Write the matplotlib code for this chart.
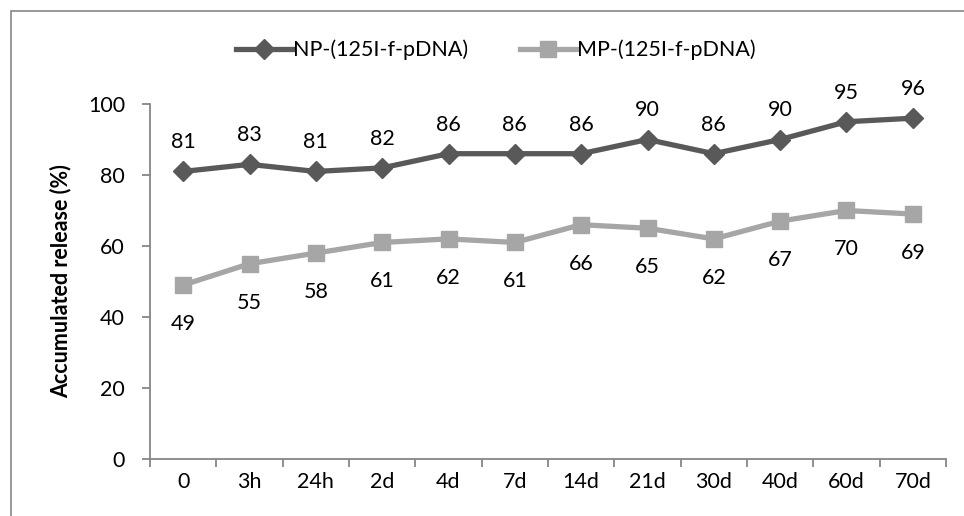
import matplotlib.pyplot as plt
from matplotlib.patches import Rectangle

plt.rcParams['font.family'] = ['Lato', 'DejaVu Sans']

times = ['0', '3h', '24h', '2d', '4d', '7d', '14d', '21d', '30d', '40d', '60d', '70d']
np_release = [81, 83, 81, 82, 86, 86, 86, 90, 86, 90, 95, 96]
mp_release = [49, 55, 58, 61, 62, 61, 66, 65, 62, 67, 70, 69]

fs = 15.5
fig = plt.figure(figsize=(9.64, 5.16), dpi=100)
ax = fig.add_axes([150 / 964, 57 / 516, 796 / 964, 355 / 516])

x = range(len(times))
ax.plot(x, np_release, color='#595959', lw=3.8, marker='D', ms=10,
        label='NP-(125I-f-pDNA)')
ax.plot(x, mp_release, color='#a6a6a6', lw=3.8, marker='s', ms=11,
        label='MP-(125I-f-pDNA)')

# value labels: above the NP line, below the MP line
for i, v in enumerate(np_release):
    ax.annotate(str(v), (i, v), xytext=(0, 21), textcoords='offset points',
                ha='center', va='center', fontsize=fs)
for i, v in enumerate(mp_release):
    ax.annotate(str(v), (i, v), xytext=(0, -28), textcoords='offset points',
                ha='center', va='center', fontsize=fs)

ax.set_xlim(-0.5, len(times) - 0.5)
ax.set_ylim(0, 100)
ax.set_yticks(range(0, 101, 20))
ax.set_xticks(x)
ax.set_xticklabels(times)
ax.set_xticks([i - 0.5 for i in range(len(times) + 1)], minor=True)
ax.tick_params(axis='x', which='major', length=0, pad=9, labelsize=fs)
ax.tick_params(axis='x', which='minor', length=6, color='#868686', width=1.3)
ax.tick_params(axis='y', length=6, color='#868686', width=1.3, labelsize=fs, pad=12)
ax.set_ylabel('Accumulated release (%)', fontsize=fs, fontweight='bold', labelpad=12)

for s in ['top', 'right']:
    ax.spines[s].set_visible(False)
for s in ['left', 'bottom']:
    ax.spines[s].set_color('#868686')
    ax.spines[s].set_linewidth(1.3)

fig.legend(loc='center', bbox_to_anchor=(496 / 964, 1 - 50 / 516), ncol=2,
           frameon=False, fontsize=fs, handlelength=2.6, columnspacing=2.4,
           handletextpad=0.05)

fig.patches.append(Rectangle((11 / 964, -0.1), 1.2, 1.1 - 11 / 516,
                             transform=fig.transFigure, fill=False,
                             edgecolor='#868686', lw=1.2))

fig.savefig('out.png', dpi=100)
